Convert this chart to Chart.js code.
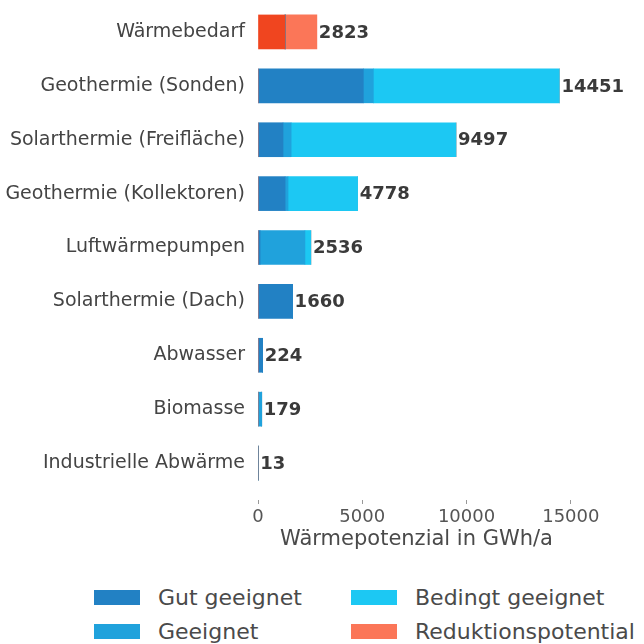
<!DOCTYPE html>
<html>
<head>
<meta charset="utf-8">
<script src="https://cdn.jsdelivr.net/npm/chart.js@4.4.1/dist/chart.umd.min.js"></script>
<style>
  body { margin: 0; background: #fff; font-family: "DejaVu Sans", sans-serif; }
  #wrap { position: relative; width: 644px; height: 644px; }
  #legend { position: absolute; left: 94px; top: 586px; display: grid;
            grid-template-columns: 257px 300px; row-gap: 12px; }
  .item { display: flex; align-items: center; height: 22px; font-size: 22px; color: #4a4a4a; }
  .box { width: 46px; height: 15px; margin-right: 18px; }
</style>
</head>
<body>
<div id="wrap">
  <canvas id="chart" width="644" height="560"></canvas>
  <div id="legend"></div>
</div>
<script>
// Kategorien (von oben nach unten)
const categories = [
  'Wärmebedarf',
  'Geothermie (Sonden)',
  'Solarthermie (Freifläche)',
  'Geothermie (Kollektoren)',
  'Luftwärmepumpen',
  'Solarthermie (Dach)',
  'Abwasser',
  'Biomasse',
  'Industrielle Abwärme'
];

// Werte in GWh/a (aus dem Bild geschätzt, Summen = Beschriftung)
const bedarf      = [1300, 0, 0, 0, 0, 0, 0, 0, 0];
const gutGeeignet = [0, 5050, 1200, 1300, 100, 1660, 224, 0, 0];
const geeignet    = [0, 480, 390, 140, 2150, 0, 0, 179, 0];
const bedingt     = [0, 8921, 7907, 3338, 286, 0, 0, 0, 13];
const reduktion   = [1523, 0, 0, 0, 0, 0, 0, 0, 0];

const xTicks = [0, 5000, 10000, 15000];

const series = [
  { label: 'Wärmebedarf', data: bedarf, color: '#f0451f', legend: false },
  { label: 'Gut geeignet', data: gutGeeignet, color: '#2281c4', legend: true },
  { label: 'Geeignet', data: geeignet, color: '#20a2dc', legend: true },
  { label: 'Bedingt geeignet', data: bedingt, color: '#1cc8f3', legend: true },
  { label: 'Reduktionspotential', data: reduktion, color: '#fb7658', legend: true }
];

const totals = categories.map((c, i) => series.reduce((s, d) => s + d.data[i], 0));

// Summen rechts neben den Balken
const totalLabels = {
  id: 'totalLabels',
  afterDatasetsDraw(chart) {
    const ctx = chart.ctx;
    const x = chart.scales.x, y = chart.scales.y;
    ctx.save();
    ctx.font = 'bold 18px "DejaVu Sans"';
    ctx.fillStyle = '#3a3a3a';
    ctx.textAlign = 'left';
    ctx.textBaseline = 'middle';
    totals.forEach((t, i) => {
      ctx.fillText(String(t), x.getPixelForValue(t) + 2, y.getPixelForValue(i) + 1);
    });
    ctx.restore();
  }
};

new Chart(document.getElementById('chart'), {
  type: 'bar',
  data: {
    labels: categories,
    datasets: series.map(s => ({
      label: s.label,
      data: s.data,
      backgroundColor: s.color,
      borderWidth: 0,
      barThickness: 34
    }))
  },
  options: {
    indexAxis: 'y',
    responsive: false,
    animation: false,
    layout: { padding: { left: 0, right: 69, top: 5, bottom: 5 } },
    plugins: { legend: { display: false }, tooltip: { enabled: false } },
    scales: {
      x: {
        stacked: true,
        min: 0,
        max: 15200,
        afterFit(scale) { scale.height = 65; },
        afterBuildTicks(scale) { scale.ticks = xTicks.map(v => ({ value: v })); },
        border: { display: false },
        grid: {
          drawOnChartArea: false,
          drawTicks: true,
          tickLength: 14,
          tickBorderDash: [0, 10, 4],
          tickColor: '#999999'
        },
        ticks: {
          padding: 3,
          color: '#555',
          font: { family: 'DejaVu Sans', size: 18 },
          callback: v => String(v)
        },
        title: {
          display: true,
          text: 'Wärmepotenzial in GWh/a',
          color: '#4a4a4a',
          padding: { top: 0, bottom: 3 },
          font: { family: 'DejaVu Sans', size: 21 }
        }
      },
      y: {
        stacked: true,
        afterFit(scale) {
          scale.width = 258;
          scale.paddingTop = 0;
          scale.paddingBottom = 0;
        },
        border: { display: false },
        grid: { display: false, drawTicks: false },
        ticks: { padding: 13, color: '#444', font: { family: 'DejaVu Sans', size: 19 } }
      }
    }
  },
  plugins: [totalLabels]
});

// Legende in zwei Spalten (spaltenweise wie im Original)
const legendOrder = ['Gut geeignet', 'Bedingt geeignet', 'Geeignet', 'Reduktionspotential'];
const legendEl = document.getElementById('legend');
legendOrder.forEach(name => {
  const s = series.find(d => d.label === name && d.legend);
  const item = document.createElement('div');
  item.className = 'item';
  item.innerHTML = '<span class="box" style="background:' + s.color + '"></span>' + s.label;
  legendEl.appendChild(item);
});
</script>
</body>
</html>
